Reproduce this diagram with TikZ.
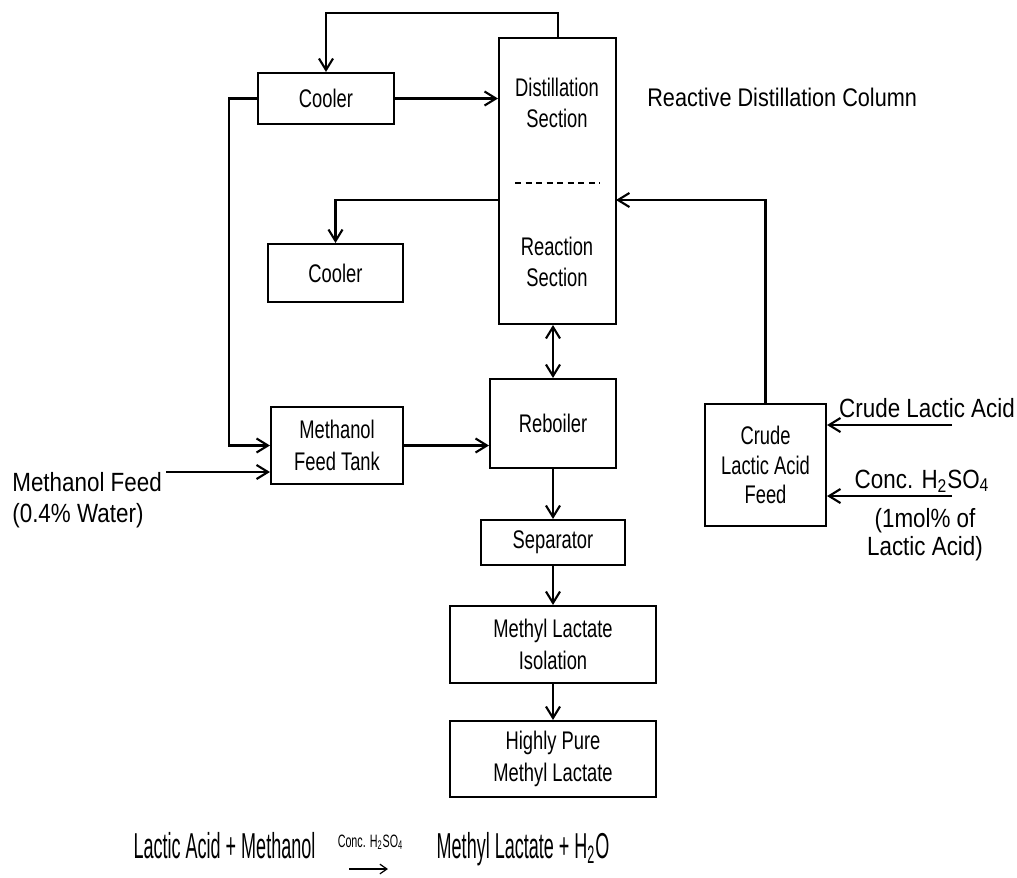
\documentclass[tikz,border=0pt]{standalone}
\usepackage{fontspec}
\setmainfont{Liberation Sans}[FakeStretch=0.85]
\newfontfamily\boxfont{Liberation Sans}[FakeStretch=0.72]
\newfontfamily\eqfont{Liberation Sans}[FakeStretch=0.5]
\newfontfamily\catfont{Liberation Sans}[FakeStretch=0.6]
\usetikzlibrary{arrows,arrows.meta}

\begin{document}
\begin{tikzpicture}[line join=miter,>={Straight Barb[length=6.5pt,width=8pt]},x=0.02cm,y=-0.02cm,
		unit/.style={draw,line width=1.2pt,fill=white,inner sep=0pt,align=center,font=\boxfont\fontsize{14.5}{18}\selectfont},
		tag/.style={inner sep=0pt,align=center,font=\boxfont\fontsize{14.5}{18}\selectfont},
		lbl/.style={inner sep=0pt,align=center,font=\fontsize{15}{17.6}\selectfont},
		flow/.style={->,line width=1.2pt}]
		\useasboundingbox (0,0) rectangle (1017,877);
		%%%%%%%%%%%%%%%%%%%%% C O L U M N %%%%%%%%%%%%%%%%%%%%%
		\node[unit,minimum width=2.34cm,minimum height=5.72cm] (col) at (557.5,181) {};
		\node[tag] (distlbl) at (557,103) {Distillation\\Section};
		\node[tag] (reaclbl) at (557,262) {Reaction\\Section};
		\coordinate (dashL) at (515,183);
		\coordinate (dashR) at (600,183);
		\draw [line width=1.1pt,dash pattern=on 3.4pt off 2.6pt] (dashL) -- (dashR);
		\node[lbl,anchor=west,font=\fontsize{14.5}{17}\selectfont] (rdclbl) at (647,97) {Reactive Distillation Column};
		
		%%%% COOLERS
		\node[unit,minimum width=2.72cm,minimum height=1.02cm] (coolA) at (326,98.5) {Cooler};
		\node[unit,minimum width=2.7cm,minimum height=1.16cm] (coolB) at (335.5,273) {Cooler};
		
		%%%% FEED TANKS
		\node[unit,minimum width=2.64cm,minimum height=1.54cm] (mftank) at (337,445.5) {Methanol\\Feed Tank};
		\node[unit,minimum width=2.42cm,minimum height=2.44cm,font=\boxfont\fontsize{14.5}{17}\selectfont] (lafeed) at (765.5,465) {Crude\\Lactic Acid\\Feed};
		
		%%%% PRODUCT TRAIN
		\node[unit,minimum width=2.52cm,minimum height=1.78cm] (reboil) at (553,423.5) {Reboiler};
		\node[unit,minimum width=2.88cm,minimum height=0.9cm] (sepr) at (553,542.5) {Separator};
		\node[unit,minimum width=4.12cm,minimum height=1.54cm] (isol) at (553,644.5) {Methyl Lactate\\Isolation};
		\node[unit,minimum width=4.12cm,minimum height=1.52cm] (pure) at (553,759) {Highly Pure\\Methyl Lactate};
		
		%%%% STREAMS
		\coordinate (topturn) at (558,13);
		\draw [flow] (col.north -| topturn) -- (topturn) -| (coolA.north);
		\draw [flow] (coolA.east) -- (coolA.east -| col.west);
		\coordinate (leftturn) at (229,98.5);
		\draw [flow] (coolA.west) -- (leftturn) |- (mftank.west);
		\coordinate (sideout) at (499,200);
		\draw [flow] (sideout) -| (coolB.north);
		\coordinate (sidein) at (616,200);
		\draw [flow] (lafeed.north) |- (sidein);
		\draw [flow,<->] (reboil.north |- col.south) -- (reboil.north);
		\draw [flow] (mftank.east) -- (mftank.east -| reboil.west);
		\draw [flow] (reboil.south) -- (sepr.north);
		\draw [flow] (sepr.south) -- (isol.north);
		\draw [flow] (isol.south) -- (pure.north);
		
		%%%% INPUTS
		\coordinate (mfsrc) at (166,472);
		\draw [flow] (mfsrc) -- (mfsrc -| mftank.west);
		\node[lbl,anchor=west,align=left] (mflbl) at (12,500) {Methanol Feed\\(0.4\% Water)};
		\coordinate (lasrc) at (952,425);
		\draw [flow] (lasrc) -- (lasrc -| lafeed.east);
		\node[lbl] (lalbl) at (927,408.5) {Crude Lactic Acid};
		\coordinate (acsrc) at (952,496);
		\draw [flow] (acsrc) -- (acsrc -| lafeed.east);
		\node[lbl,anchor=base] (aclbl) at (922,488) {Conc. H\textsubscript{2}SO\textsubscript{4}};
		\node[lbl,font=\fontsize{15}{16}\selectfont] (aclnote) at (925,535) {(1mol\% of\\Lactic Acid)};
		
		%%%% REACTION
		\node[inner sep=0pt,anchor=base,font=\eqfont\fontsize{20.5}{22}\selectfont] (lhs) at (224.5,858) {Lactic Acid + Methanol};
		\node[inner sep=0pt,anchor=base,font=\eqfont\fontsize{20.5}{22}\selectfont] (rhs) at (523,858) {Methyl Lactate + H\textsubscript{2}O};
		\node[inner sep=0pt,anchor=base,font=\catfont\fontsize{10.2}{12}\selectfont] (cat) at (370.5,847) {Conc. H\textsubscript{2}SO\textsubscript{4}};
		\coordinate (rxa) at (349,869);
		\coordinate (rxb) at (388,869);
		\draw [->,line width=0.7pt,>={Straight Barb[length=4pt,width=5.5pt]}] (rxa) -- (rxb);
\end{tikzpicture}
\end{document}
